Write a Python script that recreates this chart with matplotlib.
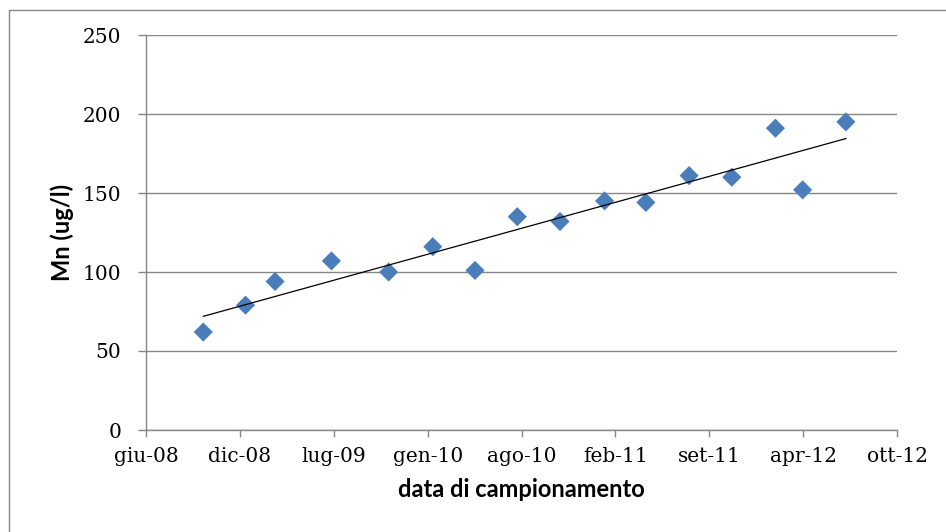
import datetime as dt

import matplotlib

matplotlib.use("Agg")
import matplotlib.dates as mdates
import matplotlib.pyplot as plt
import numpy as np
from matplotlib.patches import Rectangle

# Mn concentration at each sampling date
sample_dates = [
    "2008-10-01", "2008-12-30", "2009-03-03", "2009-07-01",
    "2009-10-31", "2010-02-02", "2010-05-03", "2010-08-01",
    "2010-10-31", "2011-02-03", "2011-05-02", "2011-08-02",
    "2011-11-01", "2012-02-02", "2012-03-31", "2012-07-01",
]
mn_values = [62, 79, 94, 107, 100, 116, 101, 135, 132, 145, 144, 161, 160, 191, 152, 195]

# date axis: first tick 1 Jun 2008, one tick every 200 days
axis_start = "2008-06-01"
tick_step_days = 200
tick_labels = ["giu-08", "dic-08", "lug-09", "gen-10", "ago-10",
               "feb-11", "set-11", "apr-12", "ott-12"]
y_ticks = [0, 50, 100, 150, 200, 250]

GRID = "#868686"
BLUE = "#4A7EBB"

dates = [dt.datetime.fromisoformat(d) for d in sample_dates]
x = mdates.date2num(dates)
y = np.array(mn_values, dtype=float)

start = dt.datetime.fromisoformat(axis_start)
tick_pos = mdates.date2num(
    [start + dt.timedelta(days=tick_step_days * i) for i in range(len(tick_labels))]
)

fig = plt.figure(figsize=(9.46, 5.32), dpi=100)
W, H = 946, 532
ax = fig.add_axes([146 / W, 1 - 430 / H, (897 - 146) / W, (430 - 35) / H])

# outer chart frame
fig.patches.append(
    Rectangle((8.5 / W, -0.1), 1.2, 1.1 - 9.5 / H, transform=fig.transFigure,
              fill=False, edgecolor=GRID, linewidth=1.0, clip_on=False)
)

ax.scatter(x, y, marker="D", s=95, color=BLUE, edgecolors="none", zorder=3)

# linear trend over the sampling period
slope, intercept = np.polyfit(x, y, 1)
xt = np.array([x.min(), x.max()])
ax.plot(xt, slope * xt + intercept, color="black", linewidth=0.9, zorder=4)

ax.set_xlim(tick_pos[0], tick_pos[-1])
ax.set_ylim(y_ticks[0], y_ticks[-1])
ax.set_xticks(tick_pos)
ax.set_xticklabels(tick_labels)
ax.set_yticks(y_ticks)

ax.grid(axis="y", color=GRID, linewidth=1.0)
ax.set_axisbelow(True)
for side in ("top", "right"):
    ax.spines[side].set_visible(False)
for side in ("left", "bottom"):
    ax.spines[side].set_color(GRID)
    ax.spines[side].set_linewidth(1.0)

tick_font = {"family": "DejaVu Serif", "size": 14.5}
ax.tick_params(axis="y", direction="out", length=6, width=1, color=GRID, pad=12)
ax.tick_params(axis="x", direction="out", length=5, width=1, color=GRID, pad=7)
for lab in ax.get_xticklabels() + ax.get_yticklabels():
    lab.set_fontfamily(tick_font["family"])
    lab.set_fontsize(tick_font["size"])
    lab.set_color("black")

label_font = {"family": "Lato", "weight": "bold", "size": 17}
ax.set_xlabel("data di campionamento", labelpad=9, **label_font)
ax.set_ylabel("Mn (ug/l)", labelpad=6, **label_font)

fig.savefig("out.png", dpi=100)
